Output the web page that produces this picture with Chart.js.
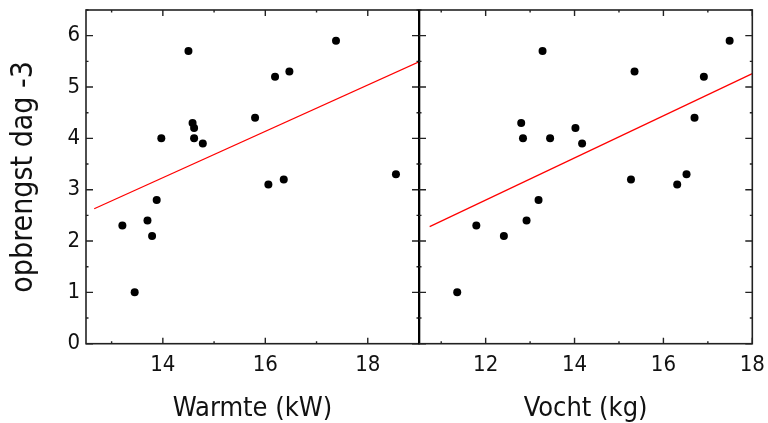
<!DOCTYPE html>
<html>
<head>
<meta charset="utf-8">
<script src="https://cdn.jsdelivr.net/npm/chart.js@4.4.0/dist/chart.umd.min.js"></script>
<style>
  html, body { margin: 0; padding: 0; background: #fff; }
  #wrap { position: relative; width: 768px; height: 423px; overflow: hidden; }
  canvas { position: absolute; top: 0; }
  #warmteChart { left: 0; }
  #vochtChart { left: 418px; }
</style>
</head>
<body>
<div id="wrap">
  <canvas id="warmteChart" width="420" height="423"></canvas>
  <canvas id="vochtChart" width="350" height="423"></canvas>
</div>
<script>
// opbrengst per meting, gemeten tegen warmte en vocht
const opbrengst = [5.7, 5.9, 5.2, 5.3, 4.4, 4.3, 4.2, 4.0, 4.0, 3.9, 3.3, 3.1, 3.2, 2.8, 2.3, 2.4, 2.1, 1.0];
const warmte = [14.50, 17.38, 16.19, 16.47, 15.80, 14.58, 14.61, 13.97, 14.61, 14.78, 18.55, 16.06, 16.36, 13.88, 13.21, 13.70, 13.79, 13.45];
const opbrengstV = [5.7, 5.9, 5.3, 5.2, 4.4, 4.3, 4.0, 4.0, 4.2, 3.9, 3.2, 3.1, 3.3, 2.8, 2.3, 2.1, 2.4, 1.0];
const vocht = [13.28, 17.49, 15.35, 16.91, 16.70, 12.80, 12.84, 13.45, 14.02, 14.17, 15.27, 16.31, 16.52, 13.19, 11.79, 12.41, 12.92, 11.36];

// regressielijnen (begin- en eindpunt)
const fitWarmteX = [12.66, 19.0];
const fitWarmteY = [2.63, 5.49];
const fitVochtX = [10.74, 18.0];
const fitVochtY = [2.28, 5.26];

// assen
const yTicks = [0, 1, 2, 3, 4, 5, 6];
const yMinor = [0.5, 1.5, 2.5, 3.5, 4.5, 5.5, 6.5];
const warmteTicks = [14, 16, 18];
const warmteMinor = [13, 15, 17];
const vochtTicks = [12, 14, 16, 18];
const vochtMinor = [11, 13, 15, 17];

Chart.defaults.font.family = '"Liberation Sans Narrow", "DejaVu Sans Condensed", sans-serif';
Chart.defaults.color = '#111';

const toPoints = (xs, ys) => xs.map((x, i) => ({ x: x, y: ys[i] }));

// kader met naar binnen gerichte streepjes
const frame = {
  id: 'frame',
  afterDraw(chart, args, opts) {
    const { ctx, chartArea: a, scales: { x, y } } = chart;
    ctx.save();
    ctx.strokeStyle = '#222';
    ctx.lineWidth = 1.6;
    ctx.strokeRect(a.left, a.top, a.right - a.left, a.bottom - a.top);
    if (opts.divider) {
      // scheidingslijn tussen de twee panelen
      ctx.strokeStyle = '#000';
      ctx.lineWidth = 2.6;
      ctx.beginPath();
      ctx.moveTo(a.left, a.top); ctx.lineTo(a.left, a.bottom);
      ctx.stroke();
      ctx.strokeStyle = '#222';
    }
    ctx.lineWidth = 1.4;
    ctx.beginPath();
    const xt = (v, len) => {
      const px = x.getPixelForValue(v);
      ctx.moveTo(px, a.bottom); ctx.lineTo(px, a.bottom - len);
      ctx.moveTo(px, a.top); ctx.lineTo(px, a.top + len);
    };
    const yt = (v, len) => {
      const py = y.getPixelForValue(v);
      ctx.moveTo(a.left, py); ctx.lineTo(a.left + len, py);
      ctx.moveTo(a.right, py); ctx.lineTo(a.right - len, py);
    };
    opts.major.forEach(v => xt(v, 6));
    opts.minor.forEach(v => xt(v, 2.5));
    yTicks.forEach(v => yt(v, 7));
    yMinor.forEach(v => yt(v, 2.5));
    ctx.stroke();
    ctx.restore();
  }
};

function makePanel(id, pts, fit, range, major, minor, title, showY) {
  return new Chart(document.getElementById(id), {
    type: 'scatter',
    data: {
      datasets: [{
        data: pts,
        backgroundColor: '#000',
        borderWidth: 0,
        pointRadius: 4
      }, {
        type: 'line',
        data: fit,
        borderColor: '#ff0000',
        borderWidth: 1.2,
        pointRadius: 0,
        fill: false
      }]
    },
    options: {
      responsive: false,
      animation: false,
      layout: {
        autoPadding: false,
        padding: { top: 10, left: showY ? 0 : 1, right: showY ? 1 : 15.7, bottom: 0 }
      },
      plugins: {
        legend: { display: false },
        tooltip: { enabled: false },
        frame: { major: major, minor: minor, divider: !showY }
      },
      scales: {
        x: {
          type: 'linear',
          min: range[0],
          max: range[1],
          afterBuildTicks: s => { s.ticks = major.map(v => ({ value: v })); },
          afterFit: s => { s.height = 79.3; s.paddingLeft = 0; s.paddingRight = 0; },
          grid: { display: false, drawTicks: false },
          border: { display: false },
          ticks: { font: { size: 22 }, padding: 8, color: '#111' },
          title: { display: true, text: title, font: { size: 27, lineHeight: 1.05 }, color: '#111', padding: { top: 0, bottom: 0 } }
        },
        y: {
          min: 0,
          max: 6.5,
          afterBuildTicks: s => { s.ticks = yTicks.map(v => ({ value: v })); },
          afterFit: s => { s.width = showY ? 86 : 0; s.paddingTop = 0; s.paddingBottom = 0; },
          grid: { display: false, drawTicks: false },
          border: { display: false },
          ticks: { display: showY, font: { size: 22 }, padding: 6, color: '#111' },
          title: { display: showY, text: 'opbrengst dag -3', font: { size: 30, lineHeight: 1.1 }, color: '#111', padding: { top: 8 } }
        }
      }
    },
    plugins: [frame]
  });
}

makePanel('warmteChart', toPoints(warmte, opbrengst), toPoints(fitWarmteX, fitWarmteY),
  [12.5, 19], warmteTicks, warmteMinor, 'Warmte (kW)', true);
makePanel('vochtChart', toPoints(vocht, opbrengstV), toPoints(fitVochtX, fitVochtY),
  [10.5, 18], vochtTicks, vochtMinor, 'Vocht (kg)', false);
</script>
</body>
</html>
